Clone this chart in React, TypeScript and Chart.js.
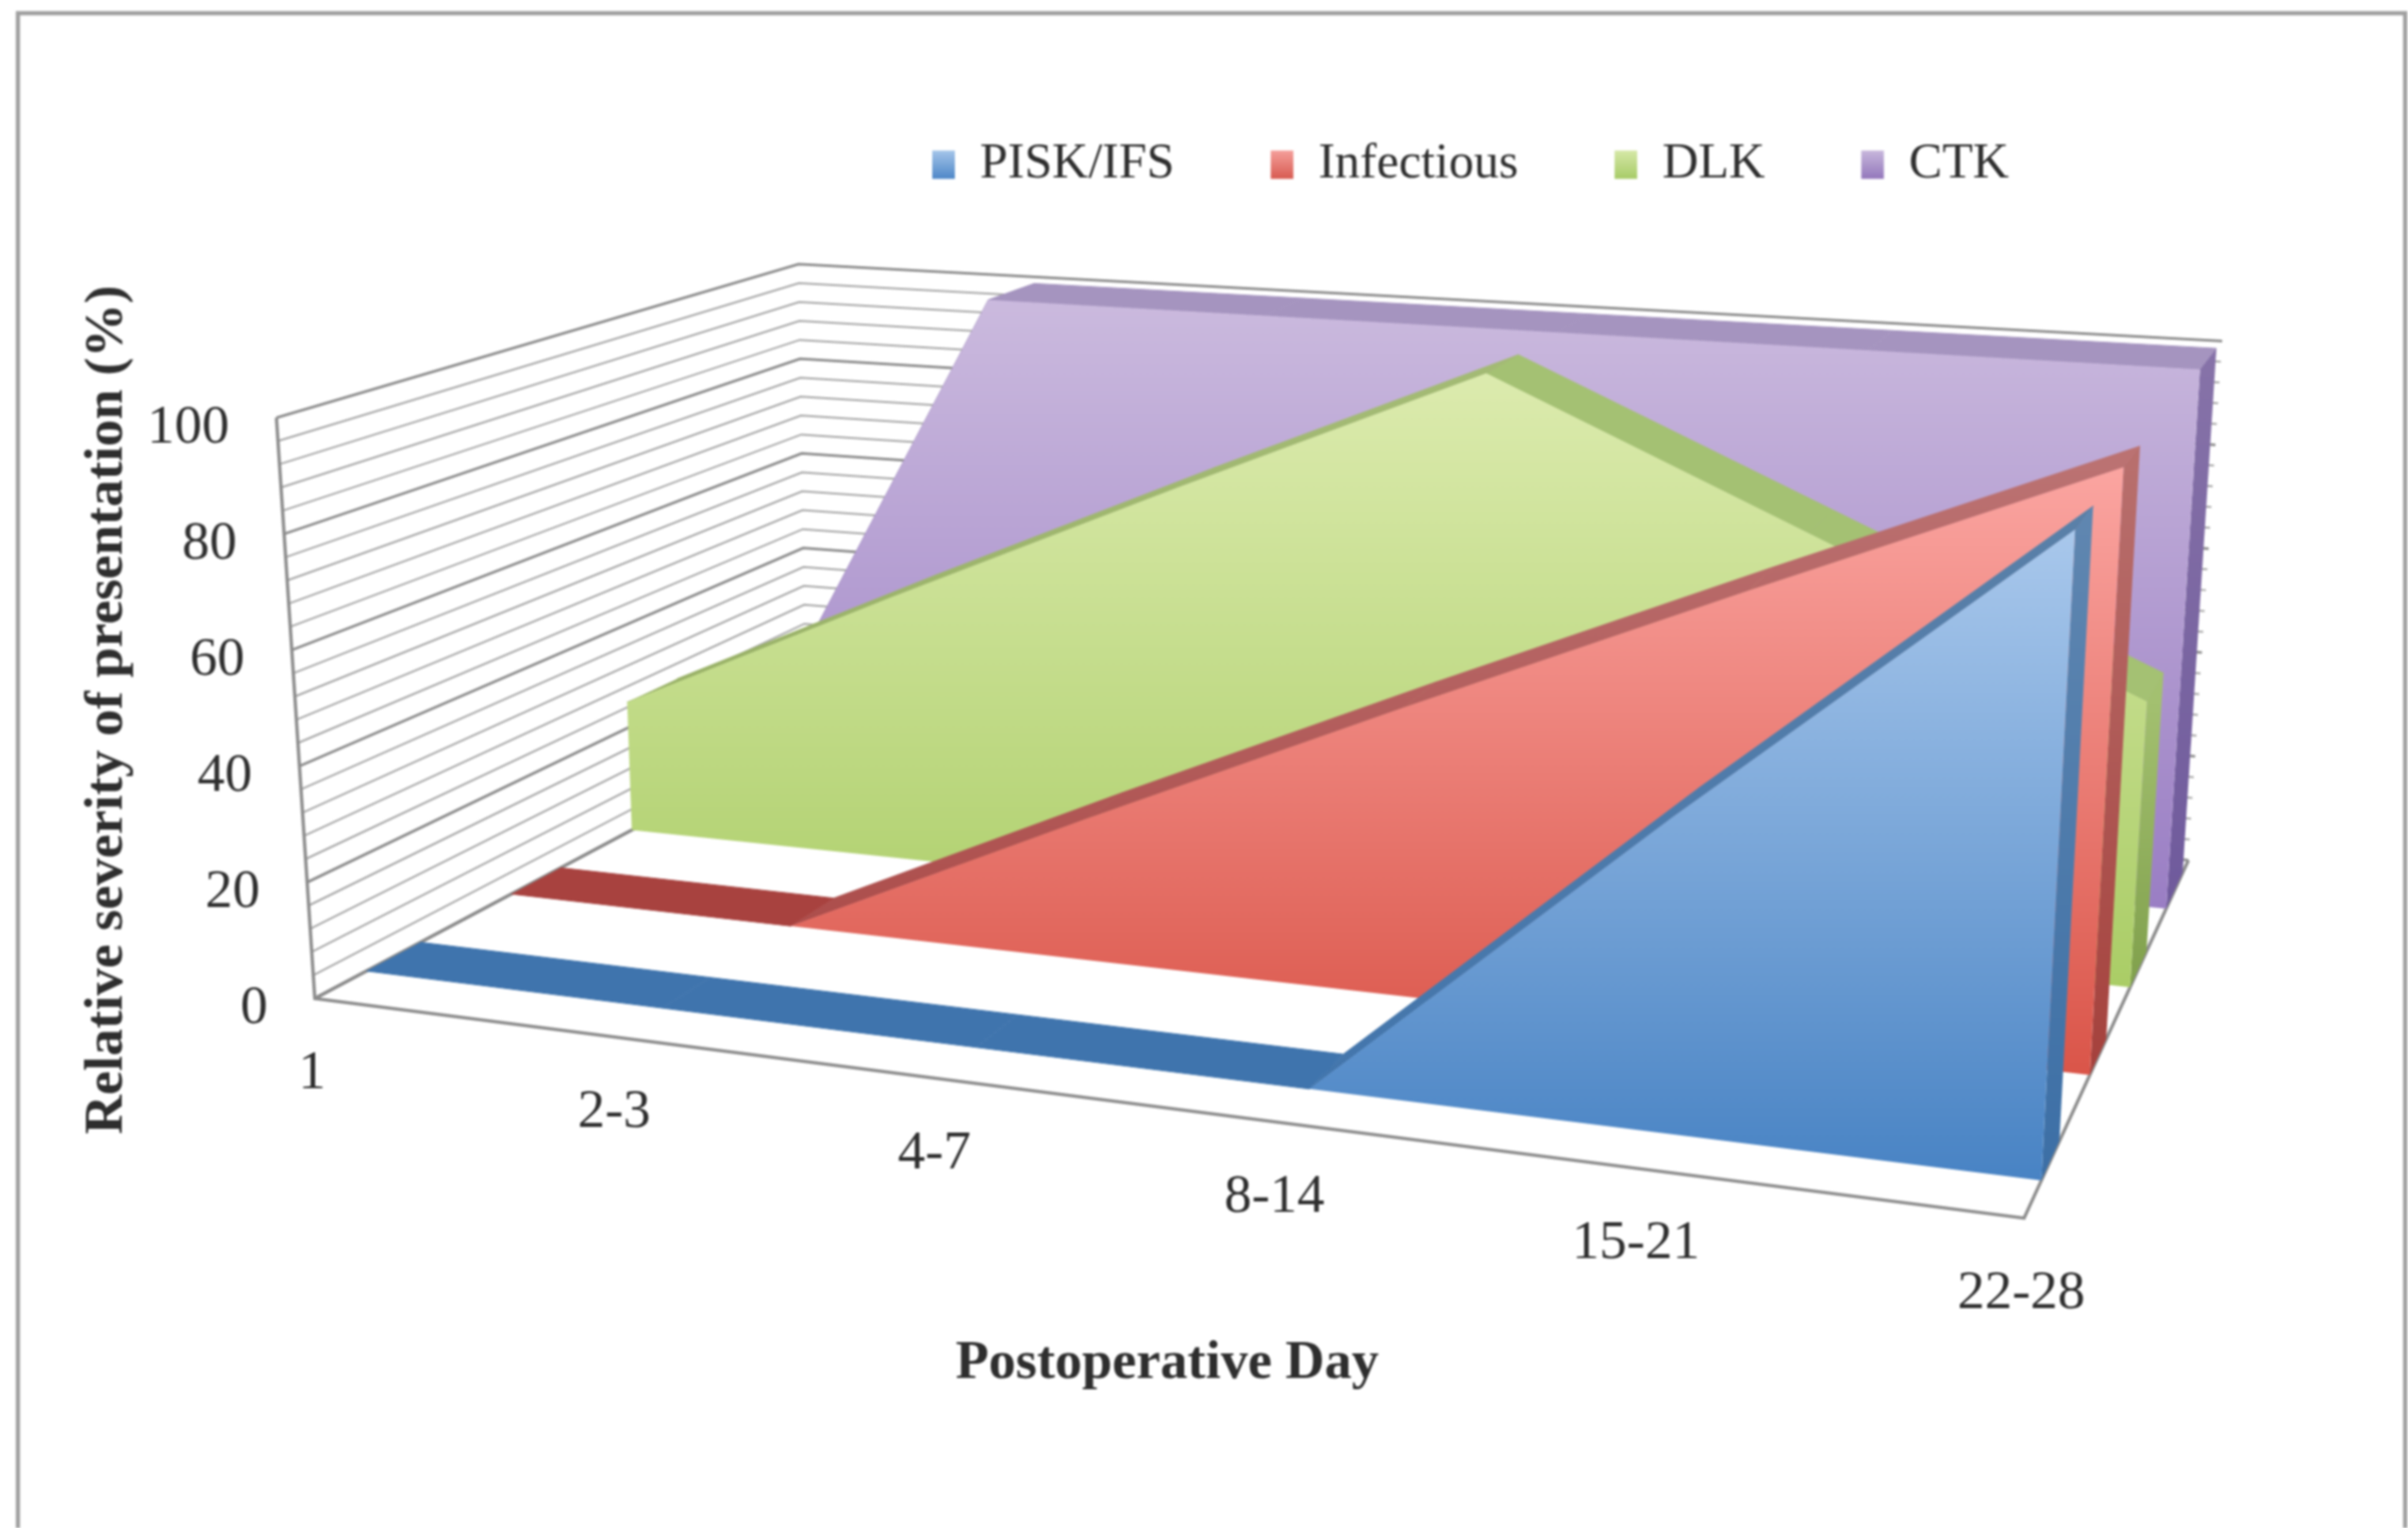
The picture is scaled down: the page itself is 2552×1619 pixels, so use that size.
import React, { useEffect, useRef } from "react";
import { Chart, registerables } from "chart.js";

Chart.register(...registerables);

const categories = ["1", "2-3", "4-7", "8-14", "15-21", "22-28"];
const valueTicks = [0, 20, 40, 60, 80, 100];
const seriesNames = ["PISK/IFS", "Infectious", "DLK", "CTK"];
const piskValues = [0, 0, 0, 0, 50, 100];
const infectiousValues = [0, 0, 25, 50, 75, 100];
const dlkValues = [25, 50, 75, 100, 75, 50];
const ctkValues = [0, 100, 100, 100, 100, 100];
const seriesValues = [piskValues, infectiousValues, dlkValues, ctkValues];

const W = 2552;
const H = 1619;
const S = 2552 / 1568;

// view of the 3-D box (front/back, left/right, bottom/top corners)
const corner = {
  fbl: [205, 650], fbr: [1318, 793], bbl: [525, 480], bbr: [1425, 560],
  ftl: [180, 272], ftr: [1340, 359], btl: [520, 172], btr: [1447, 222],
};
const FORESHORTEN = 0.859;
const depthBands = [[0.105, 0.215], [0.40, 0.50], [0.645, 0.745], [0.865, 0.965]];

const lerp = (a: number[], b: number[], t: number) => [a[0] + (b[0] - a[0]) * t, a[1] + (b[1] - a[1]) * t];

function project(catIndex: number, value: number, depth: number) {
  const t = catIndex / (categories.length - 1);
  const u = (FORESHORTEN * t) / (1 + (FORESHORTEN - 1) * t);
  const v = value / 100;
  const bottom = lerp(lerp(corner.fbl, corner.fbr, u), lerp(corner.bbl, corner.bbr, u), depth);
  const top = lerp(lerp(corner.ftl, corner.ftr, u), lerp(corner.btl, corner.btr, u), depth);
  const p = lerp(bottom, top, v);
  return { x: p[0] * S, y: p[1] * S };
}

const faceColors = [
  ["#a9c8ec", "#4883c4"],
  ["#fba5a1", "#da5549"],
  ["#dcebae", "#aacd66"],
  ["#cbbade", "#9a7ec4"],
];
const sideColors = [
  ["#5f86b0", "#3c6fa6"],
  ["#b86f6d", "#a5413c"],
  ["#a3c070", "#80a04c"],
  ["#8672a8", "#6f5a9c"],
];
const flatStrip = ["#3f74ad", "#a8423f", "#a3c06d", "#a594bf"];
const risingStrip = [
  ["#5a80a8", "#3f74ad"],
  ["#bb7272", "#a8423f"],
  ["#a3ba74", "#8ea858"],
  ["#a594bf", "#8f78b5"],
];
const fallingStrip = ["#5f87ae", "#a8423f", "#a4c173", "#a594bf"];
const swatchColors = [
  ["#a6c6ea", "#4f88c8"],
  ["#f5a09c", "#d85c52"],
  ["#d6e8a8", "#a8cc68"],
  ["#c8b8dc", "#9478bc"],
];

const FRAME = "#a0a0a0";
const TEXT = "#2e2e2e";
const SERIF = "'Liberation Serif', serif";
const LEGEND_PADDING = 102;

export default function App() {
  const ref = useRef<HTMLCanvasElement>(null);

  useEffect(() => {
    const canvas = ref.current!;
    const ctx = canvas.getContext("2d")!;

    const grad = (stops: string[], y0: number, y1: number) => {
      const g = ctx.createLinearGradient(0, y0, 0, y1);
      g.addColorStop(0, stops[0]);
      g.addColorStop(1, stops[1]);
      return g;
    };

    const polygon = (data: { x: number; y: number }[], backgroundColor: any, order: number, label = "", seam = false) => ({
      type: "scatter" as const,
      label,
      data,
      showLine: true,
      fill: "shape",
      backgroundColor,
      borderColor: seam ? backgroundColor : "transparent",
      borderWidth: seam ? 1 : 0,
      pointRadius: 0,
      pointHoverRadius: 0,
      tension: 0,
      order,
      clip: false,
    });

    const strokes = (segments: { x: number; y: number }[][], borderColor: string, borderWidth: number, order: number) => ({
      type: "scatter" as const,
      label: "",
      data: segments.flatMap((s) => [...s, { x: NaN, y: NaN }]),
      showLine: true,
      fill: false,
      borderColor,
      borderWidth,
      backgroundColor: "transparent",
      pointRadius: 0,
      pointHoverRadius: 0,
      tension: 0,
      spanGaps: false,
      order,
      clip: false,
    });

    const last = categories.length - 1;
    const seriesSets: any[] = [];
    const stripSets: any[] = [];
    seriesValues.forEach((vals, r) => {
      const [zF, zB] = depthBands[r];
      const yBottom = project(last, 0, zF).y;
      const yTop = project(last, 100, zF).y;
      const topY = Math.min(...vals.map((v, i) => project(i, v, zF).y));
      const face = [
        ...vals.map((v, i) => project(i, v, zF)),
        project(last, 0, zF),
        project(0, 0, zF),
      ];
      seriesSets.push(polygon(face, grad(faceColors[r], topY, yBottom), 100 + r * 10, seriesNames[r]));
      const sideTop = project(last, vals[last], zF).y;
      stripSets.push(
        polygon(
          [
            project(last, vals[last], zF),
            project(last, vals[last], zB),
            project(last, 0, zB),
            project(last, 0, zF),
          ],
          grad(sideColors[r], sideTop, yBottom),
          101 + r * 10,
        ),
      );
      for (let i = 0; i < last; i++) {
        const a = vals[i];
        const b = vals[i + 1];
        let color: any = flatStrip[r];
        if (b > a) color = grad(risingStrip[r], yTop, yBottom);
        if (b < a) color = fallingStrip[r];
        stripSets.push(
          polygon(
            [project(i, a, zF), project(i + 1, b, zF), project(i + 1, b, zB), project(i, a, zB)],
            color,
            102 + r * 10,
            "",
            true,
          ),
        );
      }
    });

    const minor: { x: number; y: number }[][] = [];
    const major: { x: number; y: number }[][] = [];
    for (let v = 0; v <= 100; v += 4) {
      const line = [project(0, v, 0), project(0, v, 1), project(last, v, 1)];
      (v % 20 === 0 ? major : minor).push(line);
    }
    const frame = [
      [project(0, 100, 0), project(0, 0, 0), project(last, 0, 0), project(last, 0, 1)],
      [project(0, 0, 0), project(0, 0, 1)],
    ];

    const gridSets = [
      strokes(minor, "#a6a6a6", 2, 202),
      strokes(major, "#8c8c8c", 2.8, 201),
      strokes(frame, "#8c8c8c", 3.5, 200),
    ];

    const overlay = {
      id: "overlay",
      afterLayout(chart: any) {
        const l = chart.legend;
        if (!l) return;
        l.left = 988 - LEGEND_PADDING;
        l.right = W;
        l.top = 148 - LEGEND_PADDING;
        l.bottom = 300;
      },
      beforeDatasetsDraw(chart: any) {
        const c = chart.ctx;
        c.save();
        c.strokeStyle = FRAME;
        c.lineWidth = 4.5;
        c.beginPath();
        c.moveTo(19, H);
        c.lineTo(19, 14);
        c.lineTo(2549, 14);
        c.lineTo(2549, H);
        c.stroke();
        c.restore();
      },
      afterDraw(chart: any) {
        const c = chart.ctx;
        const sx = chart.scales.x;
        const sy = chart.scales.y;
        const at = (p: { x: number; y: number }) => [sx.getPixelForValue(p.x), sy.getPixelForValue(p.y)];
        c.save();
        c.fillStyle = TEXT;
        c.textBaseline = "middle";
        c.font = `58px ${SERIF}`;
        c.textAlign = "right";
        valueTicks.forEach((v) => {
          const [x, y] = at(project(0, v, 0));
          c.fillText(String(v), x - 50, y + 11);
        });
        c.textAlign = "center";
        categories.forEach((name, i) => {
          const [x, y] = at(project(i, 0, 0));
          c.fillText(name, x - 3, y + 80);
        });
        c.font = `bold 57.5px ${SERIF}`;
        c.fillText("Postoperative Day", 1237, 1445);
        c.translate(114, 752);
        c.rotate(-Math.PI / 2);
        c.fillText("Relative severity of presentation (%)", 0, 0);
        c.restore();
      },
    };

    const chart = new Chart(canvas, {
      type: "scatter",
      data: { datasets: [...seriesSets, ...stripSets, ...gridSets] as any },
      plugins: [overlay],
      options: {
        responsive: false,
        animation: false,
        devicePixelRatio: 1,
        layout: { padding: 0, autoPadding: false },
        scales: {
          x: { type: "linear", min: 0, max: W, display: false },
          y: { type: "linear", min: 0, max: H, reverse: true, display: false },
        },
        plugins: {
          tooltip: { enabled: false },
          title: { display: false },
          legend: {
            display: true,
            position: "top",
            align: "start",
            maxHeight: 0.01,
            labels: {
              font: { family: SERIF, size: 53 },
              color: TEXT,
              boxWidth: 24,
              boxHeight: 30,
              padding: LEGEND_PADDING,
              generateLabels: () =>
                seriesNames.map((name, i) => ({
                  text: name,
                  datasetIndex: i,
                  fillStyle: grad(swatchColors[i], 159, 189),
                  strokeStyle: "transparent",
                  lineWidth: 0,
                  fontColor: TEXT,
                  hidden: false,
                })),
            },
          },
        },
      } as any,
    });
    return () => chart.destroy();
  }, []);

  return (
    <div style={{ position: "absolute", left: 0, top: 0, width: W, height: H, background: "#ffffff" }}>
      <canvas ref={ref} width={W} height={H} style={{ display: "block", filter: "blur(0.9px)" }} />
    </div>
  );
}
